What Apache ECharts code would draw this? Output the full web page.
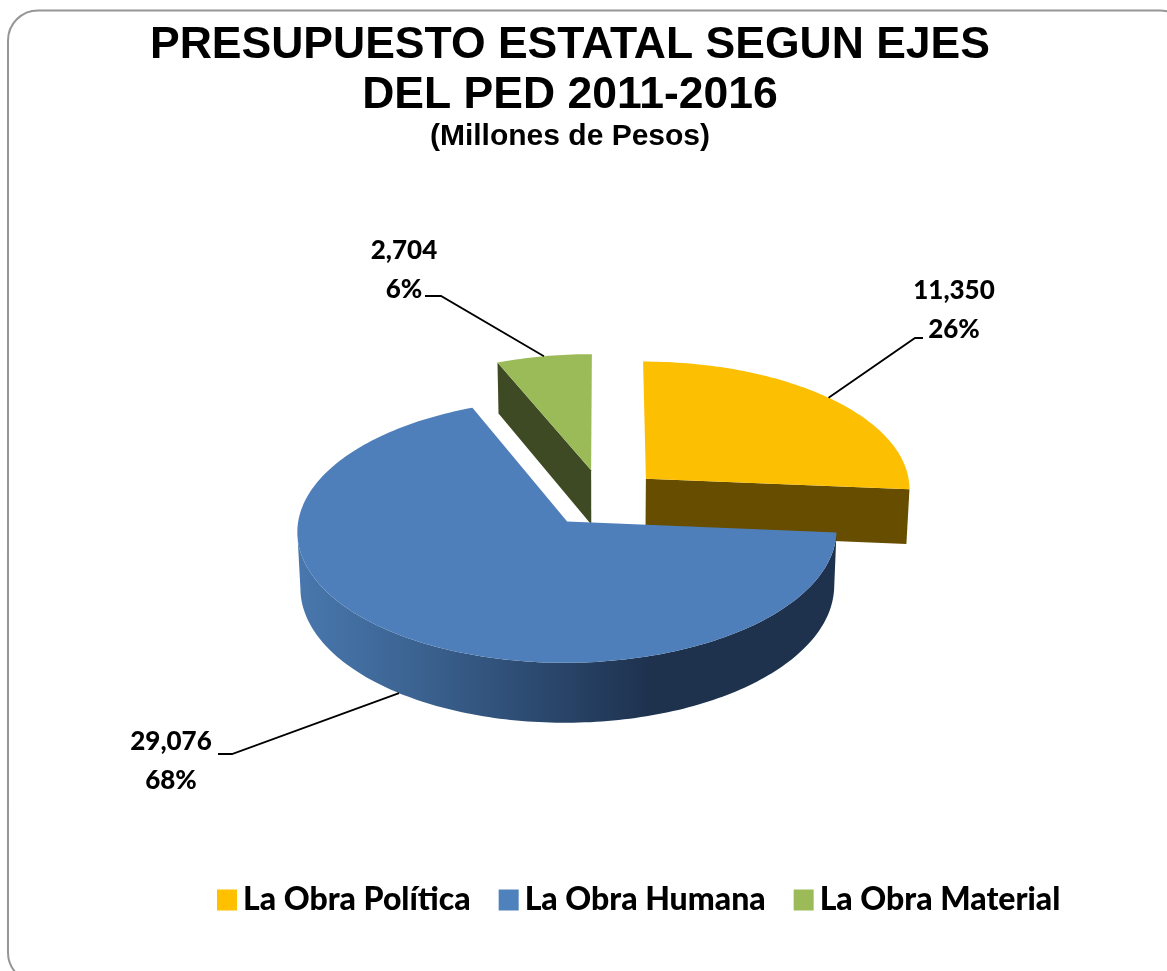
<!DOCTYPE html>
<html>
<head>
<meta charset="utf-8">
<title>Presupuesto estatal</title>
<script src="https://cdn.jsdelivr.net/npm/echarts@6/dist/echarts.min.js"></script>
<style>
html,body{margin:0;padding:0;background:#fff;overflow:hidden}
#main{width:1167px;height:971px}
</style>
</head>
<body>
<div id="main"></div>
<script>
// datos
var categories = ['La Obra Política', 'La Obra Humana', 'La Obra Material'];
var values = [11350, 29076, 2704];
var valueLabels = ['11,350', '29,076', '2,704'];
var pctLabels = ['26%', '68%', '6%'];

// colores por rebanada
var topColors = ['#FDBF02', '#4F7FBA', '#9BBB59'];
var legendColors = ['#FFC000', '#4F81BD', '#9BBB59'];
var wallColors = [
    '#664D00',
    new echarts.graphic.LinearGradient(300, 0, 650, 0, [
        {offset: 0, color: '#4877AD'},
        {offset: 0.3, color: '#3D6594'},
        {offset: 0.6, color: '#2F4F77'},
        {offset: 1, color: '#1E324E'}
    ], true),
    '#3E4A23'
];

// proyeccion del pastel
var CX = 602.6, CY = 498, RX = 265.5, RY = 128, DEPTH = 55;
var PERSP = 0.07, EXPLODE = 0.224;

// codo de la guia y posicion del texto
var elbows = [[915, 338, 923, 338], [232, 754, 218, 754], [441, 296, 425, 296]];
var labelPos = [[954, 291], [171, 742], [404, 251]];
var LABEL_LINE = 39;

var total = values.reduce(function (a, b) { return a + b; }, 0);

function proj(u, v, low) {
    var s = 1 / (1 + PERSP * v);
    return [
        CX + RX * u * s * (low ? 0.99 : 1),
        CY + (-RY * v + (low ? DEPTH : 0)) * s
    ];
}

// angulos (horario desde las 12) de cada rebanada
function sliceAngles(idx) {
    var a = 0;
    for (var i = 0; i < idx; i++) a += values[i] / total * Math.PI * 2;
    return [a, a + values[idx] / total * Math.PI * 2];
}

function apexOf(idx) {
    var ang = sliceAngles(idx);
    var mid = (ang[0] + ang[1]) / 2;
    return [EXPLODE * Math.sin(mid), EXPLODE * Math.cos(mid), mid];
}

// puntos del borde; frontOnly deja el tramo frontal hasta el extremo izquierdo,
// pasado ese punto la banda se pliega y deja un hueco al rellenar
function rimPoints(idx, low, frontOnly) {
    var ang = sliceAngles(idx), ap = apexOf(idx), pts = [];
    var n = Math.max(8, Math.ceil((ang[1] - ang[0]) / 0.02));
    for (var i = 0; i <= n; i++) {
        var t = ang[0] + (ang[1] - ang[0]) * i / n;
        if (frontOnly && Math.cos(t) > 0) continue;
        var pt = proj(ap[0] + Math.sin(t), ap[1] + Math.cos(t), low);
        if (frontOnly && pts.length && pt[0] > pts[pts.length - 1][0]) break;
        pts.push(pt);
    }
    return pts;
}

function poly(points, fill) {
    return {type: 'polygon', shape: {points: points}, style: {fill: fill, stroke: null}};
}

function renderSlice(idx) {
    var ang = sliceAngles(idx), ap = apexOf(idx);
    var top = rimPoints(idx, false), low = rimPoints(idx, true);
    var frontTop = rimPoints(idx, false, true), frontLow = rimPoints(idx, true, true);
    var apexTop = proj(ap[0], ap[1], false), apexLow = proj(ap[0], ap[1], true);
    var wall = wallColors[idx], n = top.length - 1;
    var kids = [];
    if (frontTop.length > 1) {
        kids.push(poly(frontTop.concat(frontLow.slice().reverse()), wall));
    }
    // cada corte solo se dibuja si mira hacia el frente
    if (Math.sin(ang[0]) < -1e-6) kids.push(poly([apexTop, top[0], low[0], apexLow], wall));
    if (Math.sin(ang[1]) > 1e-6) kids.push(poly([apexTop, top[n], low[n], apexLow], wall));
    kids.push(poly([apexTop].concat(top), topColors[idx]));

    // guia: la rebanada humana la lleva en el borde inferior
    var rimPt = proj(ap[0] + Math.sin(ap[2]), ap[1] + Math.cos(ap[2]), Math.cos(ap[2]) < 0);
    var e = elbows[idx];
    kids.push({
        type: 'polyline',
        shape: {points: [rimPt, [e[0], e[1]], [e[2], e[3]]]},
        style: {fill: null, stroke: '#000', lineWidth: 1.8}
    });
    var p = labelPos[idx];
    [valueLabels[idx], pctLabels[idx]].forEach(function (txt, k) {
        kids.push({
            type: 'text',
            style: {
                x: p[0], y: p[1] + k * LABEL_LINE, text: txt,
                fill: '#000', font: '900 26px Lato',
                align: 'center', verticalAlign: 'middle'
            }
        });
    });
    return {type: 'group', children: kids};
}

var order = [0, 2, 1];
var series = order.map(function (idx) {
    return {
        name: categories[idx],
        type: 'custom',
        coordinateSystem: 'none',
        animation: false,
        silent: true,
        itemStyle: {color: legendColors[idx]},
        data: [values[idx]],
        renderItem: function () { return renderSlice(idx); }
    };
});

var myChart = echarts.init(document.getElementById('main'));
myChart.setOption({
    backgroundColor: '#fff',
    animation: false,
    title: {
        text: 'PRESUPUESTO ESTATAL SEGUN EJES\nDEL PED 2011-2016',
        subtext: '(Millones de Pesos)',
        left: 565, top: 16, textAlign: 'center',
        itemGap: 1,
        textStyle: {fontFamily: 'Liberation Sans', fontWeight: 'bold', fontSize: 44.5, lineHeight: 50, color: '#000'},
        subtextStyle: {fontFamily: 'Liberation Sans', fontWeight: 'bold', fontSize: 30, color: '#000'}
    },
    legend: {
        data: categories,
        left: 212, top: 879,
        itemWidth: 20, itemHeight: 21, itemGap: 28,
        icon: 'rect',
        textStyle: {fontFamily: 'Lato', fontWeight: 900, fontSize: 32, color: '#000', padding: [0, 0, 0, 1]}
    },
    graphic: [{
        type: 'rect', silent: true, z: -1,
        shape: {x: 8, y: 10.5, width: 1182, height: 972, r: 30},
        style: {fill: 'none', stroke: '#969696', lineWidth: 2}
    }],
    series: series
});
</script>
</body>
</html>
